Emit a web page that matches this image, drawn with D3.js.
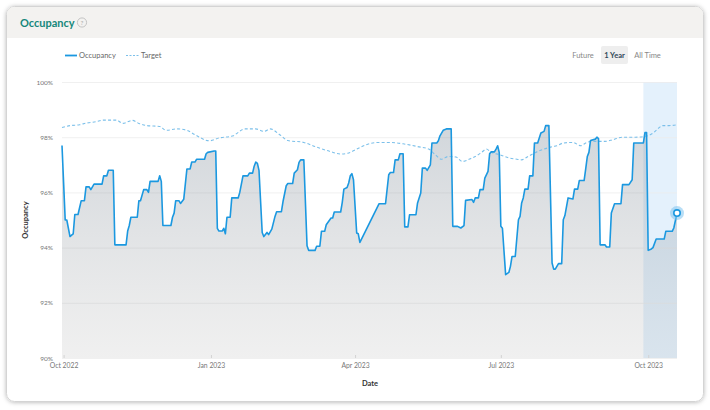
<!DOCTYPE html>
<html>
<head>
<meta charset="utf-8">
<script src="https://cdn.jsdelivr.net/npm/d3@7"></script>
<style>
  body { margin: 0; background: #fff; font-family: Lato, "Open Sans", sans-serif; }
</style>
</head>
<body>
<svg id="chart" width="710" height="410"></svg>
<script>
// Occupancy (%), one point per vertex of the stepped line
const occDates = [
  "2022-09-30","2022-10-02","2022-10-03","2022-10-05","2022-10-06","2022-10-07","2022-10-08","2022-10-10",
  "2022-10-12","2022-10-14","2022-10-15","2022-10-17","2022-10-18","2022-10-20","2022-10-25","2022-10-26",
  "2022-10-28","2022-10-29","2022-11-01","2022-11-02","2022-11-09","2022-11-10","2022-11-11","2022-11-12",
  "2022-11-16","2022-11-17","2022-11-18","2022-11-20","2022-11-22","2022-11-23","2022-11-24","2022-11-29",
  "2022-11-30","2022-12-01","2022-12-02","2022-12-07","2022-12-08","2022-12-09","2022-12-10","2022-12-12",
  "2022-12-13","2022-12-15","2022-12-17","2022-12-19","2022-12-20","2022-12-22","2022-12-23","2022-12-28",
  "2022-12-29","2022-12-30","2023-01-03","2023-01-04","2023-01-05","2023-01-06","2023-01-08","2023-01-09",
  "2023-01-10","2023-01-11","2023-01-13","2023-01-14","2023-01-18","2023-01-19","2023-01-21","2023-01-24",
  "2023-01-25","2023-01-27","2023-01-28","2023-01-29","2023-01-30","2023-01-31","2023-02-02","2023-02-03",
  "2023-02-05","2023-02-06","2023-02-08","2023-02-10","2023-02-11","2023-02-14","2023-02-15","2023-02-17",
  "2023-02-18","2023-02-21","2023-02-22","2023-02-24","2023-02-25","2023-02-26","2023-02-28","2023-03-02",
  "2023-03-03","2023-03-07","2023-03-08","2023-03-10","2023-03-11","2023-03-13","2023-03-14","2023-03-17",
  "2023-03-18","2023-03-19","2023-03-23","2023-03-24","2023-03-25","2023-03-27","2023-03-28","2023-03-29",
  "2023-03-30","2023-03-31","2023-04-02","2023-04-03","2023-04-04","2023-04-16","2023-04-20","2023-04-22",
  "2023-04-23","2023-04-25","2023-04-26","2023-04-28","2023-04-29","2023-05-01","2023-05-02","2023-05-04",
  "2023-05-05","2023-05-09","2023-05-10","2023-05-12","2023-05-13","2023-05-15","2023-05-16","2023-05-18",
  "2023-05-19","2023-05-22","2023-05-23","2023-05-24","2023-05-26","2023-05-28","2023-05-31","2023-06-01",
  "2023-06-04","2023-06-06","2023-06-08","2023-06-09","2023-06-13","2023-06-14","2023-06-15","2023-06-17",
  "2023-06-18","2023-06-20","2023-06-21","2023-06-23","2023-06-24","2023-06-25","2023-06-27","2023-06-28",
  "2023-06-29","2023-06-30","2023-07-01","2023-07-02","2023-07-04","2023-07-06","2023-07-07","2023-07-08",
  "2023-07-10","2023-07-12","2023-07-13","2023-07-14","2023-07-15","2023-07-16","2023-07-18","2023-07-19",
  "2023-07-21","2023-07-22","2023-07-24","2023-07-26","2023-07-28","2023-07-29","2023-07-31","2023-08-02",
  "2023-08-03","2023-08-04","2023-08-06","2023-08-08","2023-08-09","2023-08-10","2023-08-12","2023-08-15",
  "2023-08-16","2023-08-18","2023-08-19","2023-08-22","2023-08-23","2023-08-24","2023-08-25","2023-08-26",
  "2023-08-29","2023-08-30","2023-08-31","2023-09-01","2023-09-04","2023-09-05","2023-09-07","2023-09-08",
  "2023-09-10","2023-09-14","2023-09-15","2023-09-19","2023-09-21","2023-09-22","2023-09-28","2023-09-29",
  "2023-09-30","2023-10-01","2023-10-03","2023-10-04","2023-10-06","2023-10-11","2023-10-12","2023-10-16",
  "2023-10-17","2023-10-19"
];
const occValues = [
  97.7, 95.0, 95.0, 94.4, 94.45, 94.5, 95.2, 95.2,
  95.7, 95.7, 96.2, 96.2, 96.1, 96.3, 96.3, 96.6,
  96.6, 96.8, 96.8, 94.1, 94.1, 94.6, 94.8, 95.1,
  95.1, 95.7, 95.7, 96.1, 96.1, 96.0, 96.4, 96.4,
  96.6, 96.4, 94.8, 94.8, 95.1, 95.25, 95.7, 95.7,
  95.6, 95.75, 96.85, 96.85, 97.1, 97.1, 97.2, 97.2,
  97.4, 97.45, 97.5, 97.5, 94.7, 94.6, 94.6, 94.7,
  94.5, 95.1, 95.1, 95.8, 95.8, 96.0, 96.6, 96.6,
  96.7, 96.7, 96.95, 97.1, 97.05, 96.8, 94.55, 94.4,
  94.55, 94.47, 94.67, 95.13, 95.3, 95.3, 95.67, 96.24,
  96.32, 96.32, 96.7, 96.82, 97.09, 97.18, 97.18, 94.07,
  93.9, 93.9, 94.05, 94.05, 94.59, 94.59, 94.83, 95.07,
  95.07, 95.29, 95.29, 95.64, 96.12, 96.18, 96.34, 96.6,
  96.68, 96.46, 94.53, 94.5, 94.19, 95.59, 95.59, 96.64,
  96.72, 96.72, 97.18, 97.18, 97.4, 97.4, 94.75, 94.75,
  95.19, 95.19, 95.62, 95.98, 96.88, 96.88, 96.8, 97.0,
  97.79, 97.79, 97.87, 98.05, 98.25, 98.3, 98.3, 94.77,
  94.77, 94.71, 94.8, 95.71, 95.74, 95.64, 95.8, 95.8,
  96.1, 96.1, 96.52, 96.76, 97.4, 97.47, 97.47, 97.57,
  97.69, 97.45, 94.77, 94.7, 93.02, 93.1, 93.32, 93.68,
  93.68, 95.01, 95.13, 95.62, 95.8, 96.12, 96.12, 96.6,
  96.6, 97.79, 97.79, 98.15, 98.21, 98.42, 98.42, 93.44,
  93.22, 93.22, 93.42, 93.42, 95.01, 95.16, 95.8, 95.76,
  96.12, 96.12, 96.43, 96.43, 96.85, 97.3, 97.45, 97.88,
  97.93, 98.0, 97.95, 94.1, 94.1, 94.02, 94.02, 95.25,
  95.59, 95.59, 96.28, 96.28, 96.46, 97.79, 97.79, 98.17,
  98.17, 93.9, 93.95, 94.0, 94.31, 94.31, 94.59, 94.59,
  94.71, 95.25
];

// Target (%) - dashed line
const targetDates = [
  "2022-09-30","2022-10-05","2022-10-11","2022-10-15","2022-10-21","2022-10-26","2022-11-03","2022-11-07",
  "2022-11-13","2022-11-17","2022-11-22","2022-11-30","2022-12-04","2022-12-11","2022-12-17","2022-12-22",
  "2022-12-31","2023-01-06","2023-01-15","2023-01-17","2023-01-22","2023-01-29","2023-02-03","2023-02-07",
  "2023-02-13","2023-02-18","2023-02-28","2023-03-08","2023-03-16","2023-03-23","2023-03-28","2023-04-02",
  "2023-04-08","2023-04-16","2023-04-23","2023-05-01","2023-05-10","2023-05-17","2023-05-21","2023-05-25",
  "2023-05-29","2023-06-03","2023-06-07","2023-06-12","2023-06-15","2023-06-19","2023-06-22","2023-06-25",
  "2023-06-30","2023-07-06","2023-07-10","2023-07-14","2023-07-18","2023-07-22","2023-07-28","2023-08-01",
  "2023-08-05","2023-08-09","2023-08-15","2023-08-20","2023-08-23","2023-08-27","2023-09-04","2023-09-09",
  "2023-09-15","2023-09-23","2023-09-29","2023-10-04","2023-10-07","2023-10-10","2023-10-14","2023-10-19"
];
const targetValues = [
  98.35, 98.42, 98.45, 98.51, 98.56, 98.62, 98.62, 98.5,
  98.61, 98.5, 98.42, 98.39, 98.25, 98.3, 98.25, 98.09,
  97.87, 97.97, 98.05, 98.13, 98.3, 98.3, 98.21, 98.3,
  98.09, 97.88, 97.81, 97.64, 97.49, 97.39, 97.43, 97.57,
  97.73, 97.81, 97.81, 97.76, 97.66, 97.57, 97.37, 97.2,
  97.3, 97.28, 97.12, 97.22, 97.3, 97.45, 97.57, 97.45,
  97.37, 97.25, 97.21, 97.18, 97.3, 97.43, 97.57, 97.64,
  97.69, 97.79, 97.81, 97.69, 97.79, 97.85, 97.85, 97.91,
  98.0, 98.0, 98.03, 98.15, 98.3, 98.42, 98.42, 98.45
];

const yTicks = [90, 92, 94, 96, 98, 100];
const xTickDates = ["2022-10-01", "2023-01-01", "2023-04-01", "2023-07-01", "2023-10-01"];
const highlightStart = "2023-09-28";
const legendLabels = ["Occupancy", "Target"];
const rangeButtons = ["Future", "1 Year", "All Time"];

const parse = d3.timeParse("%Y-%m-%d");
const occ = occDates.map((d, i) => ({ date: parse(d), value: occValues[i] }));
const target = targetDates.map((d, i) => ({ date: parse(d), value: targetValues[i] }));

const plot = { left: 62, right: 677, top: 82, bottom: 358 };
const svg = d3.select("#chart");

const defs = svg.append("defs");
const shadow = defs.append("filter").attr("id", "shadow")
  .attr("x", "-5%").attr("y", "-5%").attr("width", "110%").attr("height", "110%");
shadow.append("feDropShadow").attr("dx", 0).attr("dy", 0.5)
  .attr("stdDeviation", 2).attr("flood-color", "#000").attr("flood-opacity", 0.28);

const grad = defs.append("linearGradient").attr("id", "areaGrad")
  .attr("gradientUnits", "userSpaceOnUse")
  .attr("x1", 0).attr("x2", 0).attr("y1", plot.top + 40).attr("y2", plot.bottom);
grad.append("stop").attr("offset", 0).attr("stop-color", "#6f7f8f").attr("stop-opacity", 0.32);
grad.append("stop").attr("offset", 1).attr("stop-color", "#9a9a9a").attr("stop-opacity", 0.15);

// card + header
svg.append("rect")
  .attr("x", 6.5).attr("y", 6.5).attr("width", 697).attr("height", 395)
  .attr("rx", 8).attr("fill", "#fff").attr("stroke", "#d4d4d4")
  .attr("filter", "url(#shadow)");
svg.append("path")
  .attr("d", "M7,38 L7,14.5 Q7,7 14.5,7 L695.5,7 Q703,7 703,14.5 L703,38 Z")
  .attr("fill", "#f3f2f0");

svg.append("text")
  .attr("x", 20).attr("y", 27)
  .attr("fill", "#15877a").attr("font-size", 11).attr("font-weight", 700)
  .text("Occupancy");
svg.append("circle").attr("cx", 82).attr("cy", 22.5).attr("r", 4.6)
  .attr("fill", "none").attr("stroke", "#bdbdbd").attr("stroke-width", 0.9);
svg.append("text").attr("x", 82).attr("y", 25).attr("text-anchor", "middle")
  .attr("font-size", 6.5).attr("fill", "#aaa").text("?");

// legend
const legend = svg.append("g").attr("font-size", 7.5).attr("fill", "#666");
legend.append("line").attr("x1", 65).attr("x2", 77).attr("y1", 55.5).attr("y2", 55.5)
  .attr("stroke", "#1b98e0").attr("stroke-width", 1.8);
legend.append("text").attr("x", 79).attr("y", 58).text(legendLabels[0]);
legend.append("line").attr("x1", 126).attr("x2", 139).attr("y1", 55.5).attr("y2", 55.5)
  .attr("stroke", "#7cc0ea").attr("stroke-width", 1.1).attr("stroke-dasharray", "2,1.5");
legend.append("text").attr("x", 141).attr("y", 58).text(legendLabels[1]);

// range buttons
svg.append("rect").attr("x", 601).attr("y", 46).attr("width", 27).attr("height", 18)
  .attr("rx", 2).attr("fill", "#eeeeee");
const btnX = [583, 614.5, 647.5];
rangeButtons.forEach((b, i) => {
  svg.append("text").attr("x", btnX[i]).attr("y", 58).attr("text-anchor", "middle")
    .attr("font-size", 7.5)
    .attr("font-weight", i === 1 ? 700 : 400)
    .attr("fill", i === 1 ? "#2f4858" : "#888")
    .text(b);
});

// scales
const x = d3.scaleTime()
  .domain(d3.extent(occ.concat(target), d => d.date))
  .range([plot.left, plot.right]);
const y = d3.scaleLinear().domain([90, 100]).range([plot.bottom, plot.top]);

// highlighted current period
svg.append("rect")
  .attr("x", x(parse(highlightStart))).attr("y", plot.top)
  .attr("width", plot.right - x(parse(highlightStart))).attr("height", plot.bottom - plot.top)
  .attr("fill", "#e4f1fc");

// grid lines
svg.append("g")
  .attr("transform", `translate(${plot.left},0)`)
  .call(d3.axisLeft(y).tickValues(yTicks).tickSize(-(plot.right - plot.left)).tickFormat(""))
  .call(g => g.select(".domain").remove())
  .selectAll("line").attr("stroke", "#ececec").attr("stroke-width", 0.8);

// y axis labels
svg.append("g")
  .attr("transform", `translate(${plot.left},0)`)
  .call(d3.axisLeft(y).tickValues(yTicks).tickSize(0).tickPadding(9).tickFormat(d => d + "%"))
  .call(g => g.select(".domain").remove())
  .selectAll("text").attr("fill", "#777").attr("font-size", 6.5)
  .attr("font-family", "Lato, sans-serif");

// x axis
svg.append("g")
  .attr("transform", `translate(0,${plot.bottom})`)
  .call(d3.axisBottom(x).tickValues(xTickDates.map(parse)).tickSize(-3).tickPadding(5)
    .tickFormat(d3.timeFormat("%b %Y")))
  .call(g => g.select(".domain").remove())
  .call(g => g.selectAll("line").attr("stroke", "#dddddd"))
  .selectAll("text").attr("fill", "#777").attr("font-size", 6.8)
  .attr("font-family", "Lato, sans-serif");

// axis titles
svg.append("text").attr("x", 370).attr("y", 386).attr("text-anchor", "middle")
  .attr("font-size", 7.5).attr("font-weight", 700).attr("fill", "#333").text("Date");
svg.append("text").attr("transform", "translate(28,220) rotate(-90)")
  .attr("text-anchor", "middle").attr("font-size", 7.5).attr("font-weight", 700)
  .attr("fill", "#333").text("Occupancy");

// occupancy area + line
svg.append("path").datum(occ)
  .attr("fill", "url(#areaGrad)")
  .attr("d", d3.area().x(d => x(d.date)).y0(plot.bottom).y1(d => y(d.value)));

svg.append("path").datum(target)
  .attr("fill", "none").attr("stroke", "#7cc0ea").attr("stroke-width", 1.1)
  .attr("stroke-dasharray", "3,2.2")
  .attr("d", d3.line().x(d => x(d.date)).y(d => y(d.value)).curve(d3.curveMonotoneX));

svg.append("path").datum(occ)
  .attr("fill", "none").attr("stroke", "#1b98e0").attr("stroke-width", 1.6)
  .attr("stroke-linejoin", "round")
  .attr("d", d3.line().x(d => x(d.date)).y(d => y(d.value)));

// last point marker
const last = occ[occ.length - 1];
svg.append("circle").attr("cx", x(last.date)).attr("cy", y(last.value)).attr("r", 7)
  .attr("fill", "#7dc2ee").attr("opacity", 0.55);
svg.append("circle").attr("cx", x(last.date)).attr("cy", y(last.value)).attr("r", 3.2)
  .attr("fill", "#fff").attr("stroke", "#1b98e0").attr("stroke-width", 1.6);
</script>
</body>
</html>
